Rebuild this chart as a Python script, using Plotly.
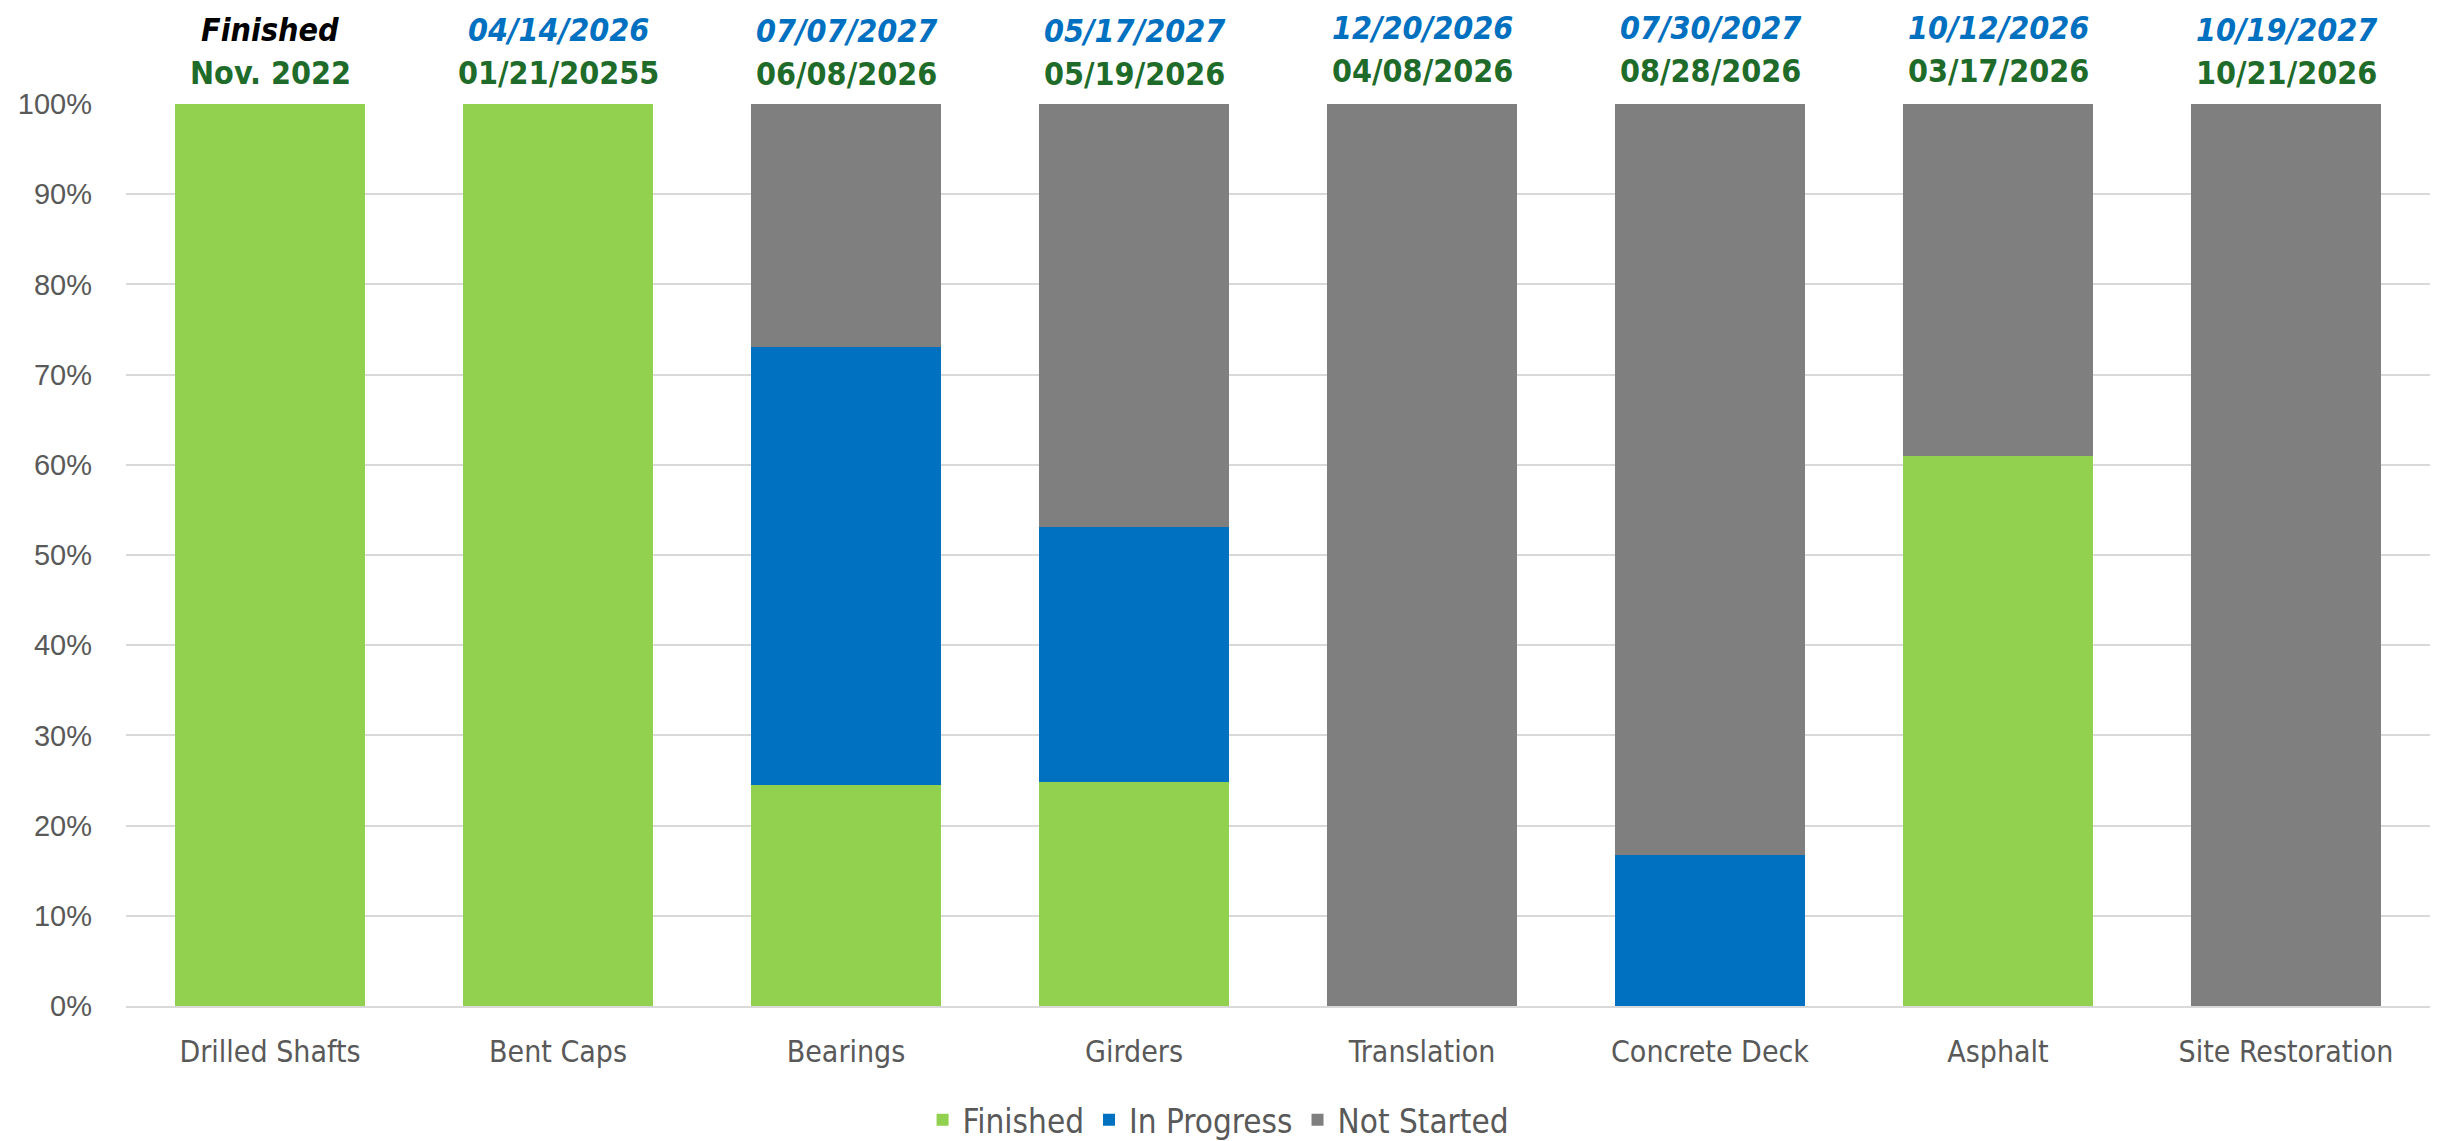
import plotly.graph_objects as go

categories = ['Drilled Shafts', 'Bent Caps', 'Bearings', 'Girders',
              'Translation', 'Concrete Deck', 'Asphalt', 'Site Restoration']
finished = [1.00, 1.00, 0.245, 0.248, 0.0, 0.0, 0.61, 0.0]
in_progress = [0.0, 0.0, 0.486, 0.283, 0.0, 0.167, 0.0, 0.0]
not_started = [0.0, 0.0, 0.269, 0.469, 1.00, 0.833, 0.39, 1.00]

# top line (forecast) and second line (planned) shown above each bar
forecast_dates = ['Finished', '04/14/2026', '07/07/2027', '05/17/2027',
                  '12/20/2026', '07/30/2027', '10/12/2026', '10/19/2027']
planned_dates = ['Nov. 2022', '01/21/20255', '06/08/2026', '05/19/2026',
                 '04/08/2026', '08/28/2026', '03/17/2026', '10/21/2026']

GREEN = '#92D050'
BLUE = '#0070C0'
GREY = '#7F7F7F'
NARROW = 'Liberation Sans Narrow, Arial Narrow, DejaVu Sans Condensed, sans-serif'

# the labels in the original sit a few pixels higher over some columns
nudge = [0, 0, -1, -1, 2, 2, 2, 0]

fig = go.Figure()
fig.add_trace(go.Bar(x=categories, y=finished, name='Finished', marker=dict(color=GREEN, line=dict(width=0))))
fig.add_trace(go.Bar(x=categories, y=in_progress, name='In Progress', marker=dict(color=BLUE, line=dict(width=0))))
fig.add_trace(go.Bar(x=categories, y=not_started, name='Not Started', marker=dict(color=GREY, line=dict(width=0))))

for cat, top, low, dy in zip(categories, forecast_dates, planned_dates, nudge):
    top_color = 'black' if top == 'Finished' else BLUE
    fig.add_annotation(x=cat, y=1, xref='x', yref='paper', text='<i><b>%s</b></i>' % top,
                       showarrow=False, yanchor='middle', yshift=74 + dy,
                       font=dict(family=NARROW, size=32, color=top_color))
    fig.add_annotation(x=cat, y=1, xref='x', yref='paper', text='<b>%s</b>' % low,
                       showarrow=False, yanchor='middle', yshift=31 + dy,
                       font=dict(family=NARROW, size=32, color='#1E6B2A'))

fig.update_layout(
    barmode='stack',
    bargap=0.34,
    width=2424,
    height=1141,
    margin=dict(l=118, r=2, t=96, b=142),
    plot_bgcolor='white',
    paper_bgcolor='white',
    showlegend=True,
    legend=dict(orientation='h', x=0.474, xanchor='center', y=-0.125, yanchor='middle',
                font=dict(family=NARROW, size=33, color='#595959'), traceorder='normal',
                itemwidth=30),
    xaxis=dict(tickfont=dict(family=NARROW, size=30, color='#595959'), tickangle=0,
               showline=True, linecolor='#D9D9D9', linewidth=2, ticks='', ticklabelstandoff=18),
    yaxis=dict(range=[0, 1], tickformat='.0%', dtick=0.1,
               tickfont=dict(family='Liberation Sans', size=29, color='#595959'),
               gridcolor='#D9D9D9', gridwidth=1.5, zeroline=False, ticks='', ticklabelstandoff=33),
)

fig.write_html('out.html')
